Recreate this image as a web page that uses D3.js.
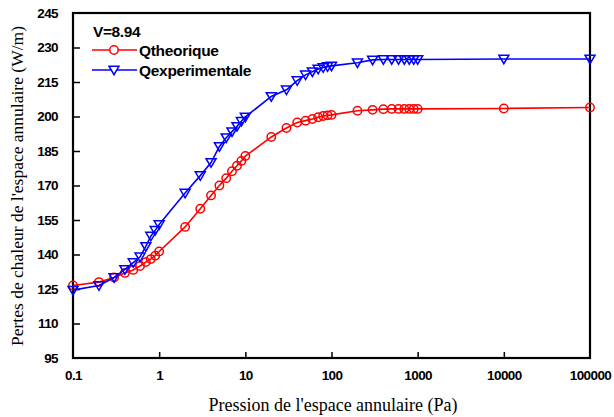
<!DOCTYPE html>
<html><head><meta charset="utf-8">
<script src="https://cdn.jsdelivr.net/npm/d3@7"></script>
<style>html,body{margin:0;padding:0;background:#fff;}svg{display:block;}</style>
</head><body>
<svg id="chart" width="614" height="417"></svg>
<script>
const pressures = [0.1,0.2,0.3,0.4,0.5,0.6,0.7,0.8,0.9,1,2,3,4,5,6,7,8,9,10,20,30,40,50,60,70,80,90,100,200,300,400,500,600,700,800,900,1000,10000,100000];
const qTheorique = [126.5,128,130,132,133.3,135,136.7,138,139.5,141.3,152,159.9,165.7,170,173.2,176.2,178.6,180.7,182.8,191.1,195,197.4,198.2,198.9,199.7,200.2,200.5,200.7,202.5,202.9,203.2,203.3,203.3,203.3,203.3,203.3,203.3,203.5,203.9];
const qExperimentale = [124.5,126.5,130,133.5,136.5,139,143.5,148,150.5,153,166.7,174.3,180,187,190.8,193.4,195.7,197.9,199.8,208.7,211.6,215.6,218.1,219.5,220.6,221.3,221.7,222,223.4,224.6,224.8,224.8,224.8,224.8,224.8,224.8,224.8,225,225];
const xTicks = [0.1,1,10,100,1000,10000,100000];
const xTickLabels = ["0.1","1","10","100","1000","10000","100000"];
const yTicks = [95,110,125,140,155,170,185,200,215,230,245];
const seriesNames = ["Qtheorique","Qexperimentale"];
const seriesColors = ["#ff0000","#0000ff"];
const annotation = "V=8.94";
const xTitle = "Pression de l'espace annulaire (Pa)";
const yTitle = "Pertes de chaleur de l'espace annulaire (W/m)";

const svg = d3.select("#chart");
const L = 73, R = 590, T = 13, B = 358;
const x = d3.scaleLog().domain([0.1,100000]).range([L,R]);
const y = d3.scaleLinear().domain([95,245]).range([B,T]);

const tickFont = "bold 13.5px 'Liberation Sans', Arial, sans-serif";

// axes
const gx = svg.append("g").attr("transform",`translate(0,${B})`)
  .call(d3.axisBottom(x).tickValues(xTicks).tickFormat((d,i)=>xTickLabels[i]).tickSizeInner(-6).tickSizeOuter(0).tickPadding(12));
const gy = svg.append("g").attr("transform",`translate(${L},0)`)
  .call(d3.axisLeft(y).tickValues(yTicks).tickSizeInner(-7).tickSizeOuter(0).tickPadding(15));
[gx,gy].forEach(g=>{
  g.select(".domain").remove();
  g.selectAll(".tick line").attr("stroke","#000").attr("stroke-width",1.5);
  g.selectAll(".tick text").attr("fill","#000").style("font",tickFont).style("letter-spacing","-0.6px");
});
gy.selectAll(".tick").filter(d=>d===95||d===245).select("line").remove();
gx.selectAll(".tick").filter(d=>d===0.1||d===100000).select("line").remove();

// frame
svg.append("rect").attr("x",L).attr("y",T).attr("width",R-L).attr("height",B-T)
  .attr("fill","none").attr("stroke","#000").attr("stroke-width",2.2);

const line = d3.line().x(d=>x(d[0])).y(d=>y(d[1]));
const dataT = pressures.map((p,i)=>[p,qTheorique[i]]);
const dataE = pressures.map((p,i)=>[p,qExperimentale[i]]);

const triangle = (cx,cy,s)=>`M${cx-s},${cy-s*0.75}L${cx+s},${cy-s*0.75}L${cx},${cy+s*0.95}Z`;

function drawSeries(data, color, kind){
  svg.append("path").datum(data).attr("d",line).attr("fill","none").attr("stroke",color).attr("stroke-width",1.6);
  const g = svg.append("g");
  if(kind==="circle"){
    g.selectAll("circle").data(data).join("circle")
      .attr("cx",d=>x(d[0])).attr("cy",d=>y(d[1])).attr("r",4.2)
      .attr("fill","none").attr("stroke",color).attr("stroke-width",1.5);
  } else {
    g.selectAll("path").data(data).join("path")
      .attr("d",d=>triangle(x(d[0]),y(d[1]),5))
      .attr("fill","none").attr("stroke",color).attr("stroke-width",1.5);
  }
}
drawSeries(dataT, seriesColors[0], "circle");
drawSeries(dataE, seriesColors[1], "triangle");

// legend
const legFont = "bold 15.5px 'Liberation Sans', Arial, sans-serif";
svg.append("text").attr("x",93).attr("y",37).text(annotation).style("font",legFont).style("letter-spacing","-0.4px");
[[50,"circle"],[70,"triangle"]].forEach(([ly,kind],i)=>{
  svg.append("line").attr("x1",92).attr("x2",137).attr("y1",ly).attr("y2",ly).attr("stroke",seriesColors[i]).attr("stroke-width",1.6);
  if(kind==="circle") svg.append("circle").attr("cx",114).attr("cy",ly).attr("r",4.2).attr("fill","#fff").attr("stroke",seriesColors[i]).attr("stroke-width",1.5);
  else svg.append("path").attr("d",triangle(114,ly,5)).attr("fill","#fff").attr("stroke",seriesColors[i]).attr("stroke-width",1.5);
  svg.append("text").attr("x",139).attr("y",ly+5.5).text(seriesNames[i]).style("font",legFont).style("letter-spacing","-0.3px");
});

// axis titles
svg.append("text").attr("x",333).attr("y",411).attr("text-anchor","middle")
  .style("font","18px 'Liberation Serif', 'Times New Roman', serif").text(xTitle);
svg.append("text").attr("transform",`translate(23,186) rotate(-90)`).attr("text-anchor","middle")
  .style("font","17.5px 'Liberation Serif', 'Times New Roman', serif").text(yTitle);
</script>
</body></html>
